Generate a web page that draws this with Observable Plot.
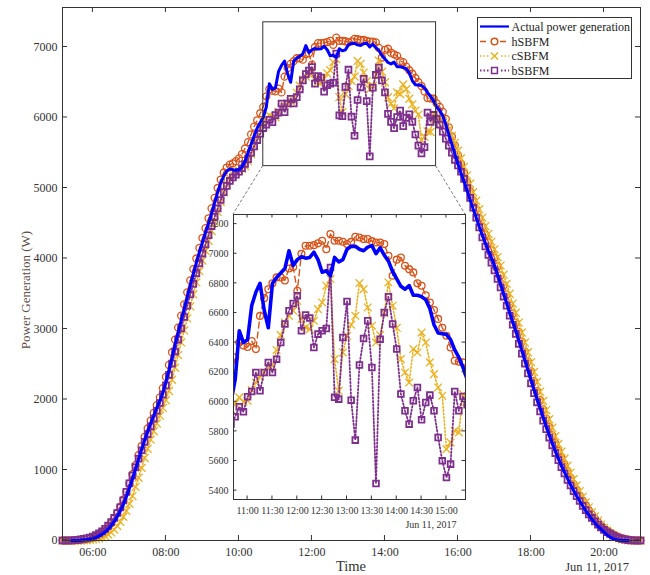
<!DOCTYPE html>
<html>
<head>
<meta charset="utf-8">
<script src="https://cdn.jsdelivr.net/npm/d3@7"></script>
<script src="https://cdn.jsdelivr.net/npm/@observablehq/plot@0.6"></script>
<style>
  body { margin: 0; background: #fff; }
  #wrap { position: relative; width: 650px; height: 575px; font-family: "Liberation Serif", "Times New Roman", serif; }
  #wrap svg { display: block; }
  #insetBox { position: absolute; left: 201px; top: 210px; }
</style>
</head>
<body>
<div id="wrap"><div id="mainBox"></div><div id="insetBox"></div></div>
<script>
// ---------------- data (5-minute samples from 05:10 to 21:00, Jun 11, 2017) ----------------
const dayLabel = "Jun 11, 2017";
const seriesNames = ["Actual power generation", "hSBFM", "cSBFM", "bSBFM"];
const firstSample = "05:10";
const stepMinutes = 5;

// Actual power generation (W)
const actual = [
  null,null,null,0,0,0,5,10,15,20,
  30,45,65,90,120,160,210,270,340,420,510,620,
  740,870,1010,1150,1290,1420,1550,1660,1770,1880,1980,2100,
  2250,2420,2590,2780,2950,3120,3280,3450,3620,3780,3940,4090,
  4230,4370,4500,4640,4790,4940,5070,5170,5240,5270,5260,5250,
  5260,5300,5380,5500,5620,5740,5850,5930,6000,6150,6480,6400,
  6420,6650,6740,6800,6620,6500,6800,6840,6870,6900,7020,6920,
  6960,6980,6970,6975,7010,6960,6875,6885,6850,6975,6945,6960,
  7030,7050,7050,7030,7020,7045,7055,7000,7040,6990,6950,6880,
  6830,6780,6760,6785,6720,6720,6710,6690,6630,6520,6465,6460,
  6455,6420,6350,6300,6232,6150,6100,6020,5900,5760,5620,5480,
  5340,5210,5090,4960,4830,4700,4580,4450,4330,4220,4110,4010,
  3900,3770,3640,3500,3370,3230,3100,2980,2840,2700,2560,2420,
  2280,2140,2010,1880,1750,1620,1500,1380,1270,1160,1060,970,
  880,790,710,630,560,490,420,360,300,250,200,160,
  120,80,50,25,10,3,0,0,0,null,null,null,
  null
];
// hSBFM
const hSBFM = [
  0,0,0,0,2,5,10,15,22,30,
  42,60,82,110,145,190,245,310,390,480,580,690,
  810,940,1070,1210,1340,1470,1590,1700,1810,1920,2030,2160,
  2320,2490,2670,2850,3020,3190,3350,3520,3690,3850,4000,4150,
  4290,4430,4570,4710,4860,5000,5120,5220,5290,5330,5350,5380,
  5420,5480,5560,5650,5760,5870,5960,6060,6150,6300,6400,6380,
  6370,6410,6356,6580,6700,6760,6800,6840,6840,6820,6900,6910,
  6750,7000,7054,7054,7058,7070,7088,7031,7133,7088,7088,7081,
  7065,7080,7115,7110,7099,7099,7085,7076,7076,7065,6986,6851,
  6960,6975,6919,6896,6874,6800,6784,6720,6670,6620,6560,6500,
  6446,6367,6277,6270,6266,6200,6150,6080,5980,5860,5730,5600,
  5470,5340,5210,5080,4950,4820,4700,4570,4450,4340,4230,4120,
  4010,3890,3760,3620,3490,3350,3220,3090,2960,2820,2680,2540,
  2400,2260,2120,1990,1860,1730,1610,1490,1380,1270,1170,1070,
  980,890,800,720,640,570,500,430,370,310,260,215,
  175,140,110,85,65,48,34,22,12,6,2,0,
  0
];
// cSBFM
const cSBFM = [
  0,0,0,0,0,0,0,2,5,10,
  15,22,32,45,62,85,115,155,205,265,335,420,
  520,630,760,890,1030,1170,1300,1430,1550,1660,1770,1880,
  1990,2120,2280,2450,2630,2810,2980,3150,3320,3490,3660,3820,
  3970,4110,4250,4390,4520,4660,4800,4940,5050,5140,5200,5230,
  5250,5270,5310,5380,5480,5600,5720,5840,5950,5990,6030,6000,
  6007,6080,6130,6170,6198,6230,6243,6350,6450,6536,6580,6615,
  6682,6560,6502,6491,6547,6626,6671,6784,6829,6288,6074,6333,
  6446,6520,6581,6802,6761,6637,6514,6400,6450,6600,6806,6649,
  6500,6288,6198,6130,6356,6333,6468,6400,6266,6187,6097,6041,
  5680,5725,5804,5793,6052,6000,6000,5950,5900,5830,5740,5640,
  5530,5420,5300,5180,5060,4940,4820,4700,4580,4460,4350,4240,
  4130,4020,3900,3770,3640,3500,3360,3230,3090,2950,2810,2670,
  2530,2390,2250,2110,1980,1850,1720,1600,1480,1370,1260,1160,
  1060,960,870,780,700,620,540,470,400,340,280,225,
  180,140,105,75,50,32,18,8,3,0,0,0,
  0
];
// bSBFM
const bSBFM = [
  0,0,0,0,5,10,15,22,30,40,
  55,75,100,130,165,210,260,320,390,470,570,690,
  810,920,1040,1160,1280,1400,1510,1620,1730,1840,1950,2070,
  2200,2350,2510,2680,2850,3010,3170,3330,3490,3640,3790,3930,
  4070,4200,4330,4460,4590,4710,4830,4940,5030,5100,5150,5190,
  5230,5280,5340,5410,5500,5590,5680,5770,5850,5899,5966,5932,
  6034,6070,6198,6074,6198,6266,6198,6288,6400,6525,6615,6664,
  6716,6480,6586,6566,6367,6457,6480,6495,6907,6030,6018,6434,
  6678,6011,5741,6248,6428,6547,6232,5448,6423,6603,6709,6525,
  6356,6052,5939,5849,6007,6097,5878,5995,6045,5939,5759,5601,
  5489,5579,6070,5939,6036,5980,5900,5800,5700,5600,5500,5400,
  5320,5230,5130,5000,4860,4720,4580,4440,4300,4170,4050,3940,
  3830,3710,3590,3460,3330,3190,3060,2930,2790,2650,2510,2370,
  2230,2090,1960,1830,1700,1580,1460,1350,1240,1140,1040,950,
  860,780,700,630,560,490,430,370,320,270,225,185,
  150,120,95,70,50,35,22,12,6,2,0,0,
  0
];

// axes / ticks
const mainXDomain = ["05:10", "21:00"];
const mainYDomain = [0, 7560];
const mainXTicks = ["06:00","08:00","10:00","12:00","14:00","16:00","18:00","20:00"];
const mainYTicks = [0,1000,2000,3000,4000,5000,6000,7000];
const zoomBoxX = ["10:40", "15:24"];
const zoomBoxY = [5310, 7350];
const insetXDomain = ["10:43", "15:23"];
const insetYDomain = [5340, 7265];
const insetXTicks = ["11:00","11:30","12:00","12:30","13:00","13:30","14:00","14:30","15:00"];
const insetYTicks = [5400,5600,5800,6000,6200,6400,6600,6800,7000,7200];

// ---------------- build ----------------
const T = s => { const [h, m] = s.split(":").map(Number); return new Date(2017, 5, 11, h, m); };
const [h0, m0] = firstSample.split(":").map(Number);
const times = actual.map((_, i) => new Date(2017, 5, 11, h0, m0 + stepMinutes * i));
const toRows = arr => arr.map((v, i) => ({time: times[i], value: v})).filter(d => d.value != null);
const aData = toRows(actual), hData = toRows(hSBFM), cData = toRows(cSBFM), bData = toRows(bSBFM);

const C = {a: "#0000ff", h: "#D95319", c: "#EDB120", b: "#7E2F8E"};
const FONT = '"Liberation Serif", "Times New Roman", serif';

function seriesMarks(lw, r, clip) {
  return [
    Plot.line(hData, {x: "time", y: "value", stroke: C.h, strokeWidth: 1.4, strokeDasharray: "6,4", clip}),
    Plot.dot(hData, {x: "time", y: "value", symbol: "circle", r, stroke: C.h, strokeWidth: 1.3, fill: "none", clip}),
    Plot.line(cData, {x: "time", y: "value", stroke: C.c, strokeWidth: 1.6, strokeDasharray: "1.5,2", clip}),
    Plot.dot(cData, {x: "time", y: "value", symbol: "times", r: r * 1.05, stroke: C.c, strokeWidth: 1.3, clip}),
    Plot.line(bData, {x: "time", y: "value", stroke: C.b, strokeWidth: 1.8, strokeDasharray: "1.5,2", clip}),
    Plot.dot(bData, {x: "time", y: "value", symbol: "square", r: r * 0.95, stroke: C.b, strokeWidth: 1.8, fill: "none", clip}),
    Plot.line(aData, {x: "time", y: "value", stroke: C.a, strokeWidth: lw, clip})
  ];
}

function addTicks(svg, p, xt, yt, len, dims) {
  const sx = p.scale("x"), sy = p.scale("y");
  const x0 = dims.l, x1 = dims.w - dims.r, y0 = dims.t, y1 = dims.h - dims.b;
  const g = d3.select(svg).append("g").attr("stroke", "#333").attr("stroke-width", 1);
  for (const v of xt) {
    const x = sx.apply(v);
    g.append("line").attr("x1", x).attr("x2", x).attr("y1", y1).attr("y2", y1 - len);
    g.append("line").attr("x1", x).attr("x2", x).attr("y1", y0).attr("y2", y0 + len);
  }
  for (const v of yt) {
    const y = sy.apply(v);
    g.append("line").attr("x1", x0).attr("x2", x0 + len).attr("y1", y).attr("y2", y);
    g.append("line").attr("x1", x1).attr("x2", x1 - len).attr("y1", y).attr("y2", y);
  }
}

// ---- main chart ----
const MD = {w: 650, h: 575, l: 62, r: 10, t: 7, b: 35};
const main = Plot.plot({
  width: MD.w, height: MD.h,
  marginLeft: MD.l, marginRight: MD.r, marginTop: MD.t, marginBottom: MD.b,
  style: {fontFamily: FONT, fontSize: "12px", color: "#333", background: "white"},
  x: {type: "time", domain: mainXDomain.map(T), label: null},
  y: {domain: mainYDomain, label: null},
  marks: [
    Plot.axisX({ticks: mainXTicks.map(T), tickFormat: d3.timeFormat("%H:%M"), tickSize: 0, tickPadding: 7, label: null, fontSize: 12}),
    Plot.axisY({ticks: mainYTicks, tickFormat: d3.format("d"), tickSize: 0, tickPadding: 5, label: null, fontSize: 12}),
    ...seriesMarks(3, 3.5, false),
    Plot.rect([{x1: T(zoomBoxX[0]), x2: T(zoomBoxX[1]), y1: zoomBoxY[0], y2: zoomBoxY[1]}],
      {x1: "x1", x2: "x2", y1: "y1", y2: "y2", fill: "none", stroke: "#333", strokeWidth: 1}),
    Plot.frame({stroke: "#333", strokeWidth: 1})
  ]
});
document.getElementById("mainBox").appendChild(main);
addTicks(main, main, mainXTicks.map(T), mainYTicks, 5, MD);

// ---- inset chart ----
const ID = {w: 268, h: 320, l: 32, r: 4, t: 4, b: 31, left: 201, top: 210};
const inset = Plot.plot({
  width: ID.w, height: ID.h,
  marginLeft: ID.l, marginRight: ID.r, marginTop: ID.t, marginBottom: ID.b,
  style: {fontFamily: FONT, fontSize: "10px", color: "#333", background: "transparent"},
  x: {type: "time", domain: insetXDomain.map(T), label: null},
  y: {domain: insetYDomain, label: null},
  marks: [
    Plot.frame({fill: "white", stroke: "none"}),
    Plot.axisX({ticks: insetXTicks.map(T), tickFormat: d3.timeFormat("%H:%M"), tickSize: 0, tickPadding: 7, label: null, fontSize: 10}),
    Plot.axisY({ticks: insetYTicks, tickFormat: d3.format("d"), tickSize: 0, tickPadding: 5, label: null, fontSize: 10}),
    ...seriesMarks(3.6, 3.4, true),
    Plot.frame({stroke: "#333", strokeWidth: 1}),
    Plot.text([dayLabel], {frameAnchor: "bottom-right", dx: -9, dy: 28, text: d => d, fontSize: 10, textAnchor: "end"})
  ]
});
document.getElementById("insetBox").appendChild(inset);
addTicks(inset, inset, insetXTicks.map(T), insetYTicks, 3.5, ID);

// ---- connectors from zoom box to inset ----
const msx = main.scale("x"), msy = main.scale("y");
const boxL = msx.apply(T(zoomBoxX[0])), boxR = msx.apply(T(zoomBoxX[1])), boxB = msy.apply(zoomBoxY[0]);
const insL = ID.left + ID.l, insR = ID.left + ID.w - ID.r, insT = ID.top + ID.t;
const svgM = d3.select(main);
const cg = svgM.append("g").attr("stroke", "#666").attr("stroke-width", 0.9).attr("stroke-dasharray", "3,2");
cg.append("line").attr("x1", boxL).attr("y1", boxB).attr("x2", insL).attr("y2", insT);
cg.append("line").attr("x1", boxR).attr("y1", boxB).attr("x2", insR).attr("y2", insT);

// ---- axis titles ----
svgM.append("text").attr("x", (MD.l + MD.w - MD.r) / 2).attr("y", 571).attr("text-anchor", "middle")
  .attr("font-size", 14.5).attr("fill", "#333").attr("font-family", FONT).text("Time");
svgM.append("text").attr("x", 629).attr("y", 571).attr("text-anchor", "end")
  .attr("font-size", 12.5).attr("fill", "#333").attr("font-family", FONT).text(dayLabel);
svgM.append("text").attr("transform", "translate(25,290) rotate(-90)").attr("text-anchor", "middle")
  .attr("dy", "0.35em").attr("font-size", 13).attr("fill", "#5c4d44").attr("font-family", FONT).text("Power Generation (W)");

// ---- legend ----
const lg = svgM.append("g").attr("text-anchor", "start");
lg.append("rect").attr("x", 477.5).attr("y", 17.5).attr("width", 154).attr("height", 61)
  .attr("fill", "white").attr("stroke", "#333").attr("stroke-width", 1);
const rowsY = [26.5, 41.5, 56, 70.5];
const sx0 = 480, sx1 = 509, smid = 494.5;
const specs = [
  {color: C.a, width: 2.2, dash: null, sym: null},
  {color: C.h, width: 1.4, dash: "6,4", sym: d3.symbolCircle},
  {color: C.c, width: 1.6, dash: "1.5,2", sym: d3.symbolTimes},
  {color: C.b, width: 1.8, dash: "1.5,2", sym: d3.symbolSquare}
];
specs.forEach((s, i) => {
  const y = rowsY[i];
  const ln = lg.append("line").attr("x1", sx0).attr("x2", sx1).attr("y1", y).attr("y2", y)
    .attr("stroke", s.color).attr("stroke-width", s.width);
  if (s.dash) ln.attr("stroke-dasharray", s.dash);
  if (s.sym) {
    lg.append("rect").attr("x", smid - 5).attr("y", y - 5).attr("width", 10).attr("height", 10).attr("fill", "white");
    lg.append("path").attr("d", d3.symbol(s.sym, Math.PI * 3.3 * 3.3)())
      .attr("transform", `translate(${smid},${y})`).attr("fill", "none")
      .attr("stroke", s.color).attr("stroke-width", 1.5);
  }
  lg.append("text").attr("x", 511.5).attr("y", y).attr("dy", "0.35em").attr("font-size", 12)
    .attr("text-anchor", "start").attr("fill", "#222").attr("font-family", FONT).text(seriesNames[i]);
});
</script>
</body>
</html>
